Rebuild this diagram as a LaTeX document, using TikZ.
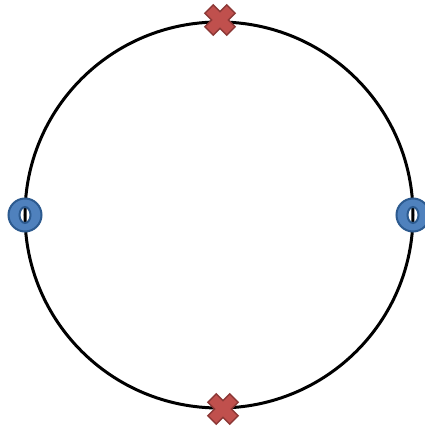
\documentclass[tikz,border=0pt]{standalone}
\begin{document}
\begin{tikzpicture}[x=1pt,y=1pt]
\definecolor{crossfill}{HTML}{C0504D}
\definecolor{crossedge}{HTML}{8C3836}
\definecolor{ringfill}{HTML}{4F81BD}
\definecolor{ringedge}{HTML}{2C5A8F}
\tikzset{
  crossmark/.style={fill=crossfill,draw=crossedge,line width=1.4pt,line join=miter},
  ringmark/.style={fill=ringfill,draw=ringedge,line width=2pt,even odd rule},
  pic cross/.pic={\path[crossmark,rotate=45]
      (-6,6)--(-6,15.5)--(6,15.5)--(6,6)--(15.5,6)--(15.5,-6)--(6,-6)--(6,-15.5)--(-6,-15.5)--(-6,-6)--(-15.5,-6)--(-15.5,6)--cycle;},
  pic ring/.pic={\path[ringmark] (0,0) circle[radius=16.5] (0,0) ellipse[x radius=5.5,y radius=8];}
}
\useasboundingbox (0,0) rectangle (425,432);
\coordinate (c) at (219,217);
\draw[line width=3pt] (c) ellipse[x radius=194,y radius=193];
\coordinate (top) at (220,412);
\coordinate (bottom) at (223,23);
\coordinate (left) at (25,217);
\coordinate (right) at (413,217);
\pic at (top) {pic cross};
\pic at (bottom) {pic cross};
\pic at (left) {pic ring};
\pic at (right) {pic ring};
\end{tikzpicture}
\end{document}
